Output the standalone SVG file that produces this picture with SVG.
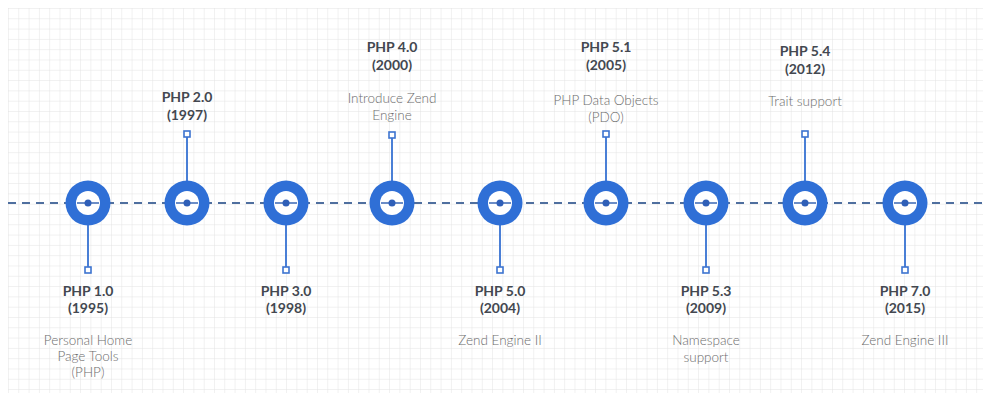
<svg xmlns="http://www.w3.org/2000/svg" width="983" height="396" viewBox="0 0 983 396">
<defs>
<pattern id="grid" x="8" y="8" width="10.3" height="10.3" patternUnits="userSpaceOnUse">
<path d="M0 0 H10.3 M0 0 V10.3" fill="none" stroke="#e2e2e2" stroke-width="1"/>
</pattern>
<g id="ring">
<circle r="22.5" fill="#2f6fd6"/>
<circle r="12" fill="#ffffff"/>
<line x1="-11" y1="0" x2="11" y2="0" stroke="#3a67b5" stroke-width="1.5"/>
<circle r="3.5" fill="#2f5fb8"/>
</g>
</defs>
<style>
.stem{stroke:#4a7fd6;stroke-width:2;fill:none}
.sq{fill:#ffffff;stroke:#3d74d0;stroke-width:1.6}
.title{font-family:"Lato","Open Sans",sans-serif;font-weight:700;font-size:14px;fill:#434850;text-anchor:middle}
.desc{font-family:"Lato","Open Sans",sans-serif;font-weight:300;font-size:13.5px;fill:#6c6c6c;text-anchor:middle}
.axis{stroke:#4f6f9f;stroke-width:2;stroke-dasharray:8 6;fill:none}
</style>
<rect width="983" height="396" fill="#ffffff"/>
<rect x="8" y="8" width="975" height="385" fill="url(#grid)"/>
<g id="connectors">
<line class="axis" x1="8" y1="203" x2="983" y2="203"/>
<line class="stem" x1="88" y1="203" x2="88" y2="267"/>
<line class="stem" x1="187" y1="203" x2="187" y2="137"/>
<line class="stem" x1="286" y1="203" x2="286" y2="267"/>
<line class="stem" x1="392" y1="203" x2="392" y2="138"/>
<line class="stem" x1="500" y1="203" x2="500" y2="267"/>
<line class="stem" x1="606" y1="203" x2="606" y2="137"/>
<line class="stem" x1="706" y1="203" x2="706" y2="267"/>
<line class="stem" x1="805" y1="203" x2="805" y2="137"/>
<line class="stem" x1="905" y1="203" x2="905" y2="267"/>
</g>
<g id="php10">
<use href="#ring" x="88" y="203"/>
<rect class="sq" x="85" y="267" width="6" height="6"/>
<text class="title" x="88" y="296">PHP 1.0</text>
<text class="title" x="88" y="313">(1995)</text>
<text class="desc" x="88" y="345">Personal Home</text>
<text class="desc" x="88" y="361">Page Tools</text>
<text class="desc" x="88" y="377">(PHP)</text>
</g>
<g id="php20">
<use href="#ring" x="187" y="203"/>
<rect class="sq" x="184" y="131" width="6" height="6"/>
<text class="title" x="187" y="102">PHP 2.0</text>
<text class="title" x="187" y="120">(1997)</text>
</g>
<g id="php30">
<use href="#ring" x="286" y="203"/>
<rect class="sq" x="283" y="267" width="6" height="6"/>
<text class="title" x="286" y="296">PHP 3.0</text>
<text class="title" x="286" y="313">(1998)</text>
</g>
<g id="php40">
<use href="#ring" x="392" y="203"/>
<rect class="sq" x="389" y="132" width="6" height="6"/>
<text class="title" x="392" y="52">PHP 4.0</text>
<text class="title" x="392" y="70">(2000)</text>
<text class="desc" x="392" y="103">Introduce Zend</text>
<text class="desc" x="392" y="120">Engine</text>
</g>
<g id="php50">
<use href="#ring" x="500" y="203"/>
<rect class="sq" x="497" y="267" width="6" height="6"/>
<text class="title" x="500" y="296">PHP 5.0</text>
<text class="title" x="500" y="313">(2004)</text>
<text class="desc" x="500" y="345">Zend Engine II</text>
</g>
<g id="php51">
<use href="#ring" x="606" y="203"/>
<rect class="sq" x="603" y="131" width="6" height="6"/>
<text class="title" x="606" y="52">PHP 5.1</text>
<text class="title" x="606" y="70">(2005)</text>
<text class="desc" x="606" y="105">PHP Data Objects</text>
<text class="desc" x="606" y="122">(PDO)</text>
</g>
<g id="php53">
<use href="#ring" x="706" y="203"/>
<rect class="sq" x="703" y="267" width="6" height="6"/>
<text class="title" x="706" y="296">PHP 5.3</text>
<text class="title" x="706" y="313">(2009)</text>
<text class="desc" x="706" y="345">Namespace</text>
<text class="desc" x="706" y="362">support</text>
</g>
<g id="php54">
<use href="#ring" x="805" y="203"/>
<rect class="sq" x="802" y="131" width="6" height="6"/>
<text class="title" x="805" y="56">PHP 5.4</text>
<text class="title" x="805" y="74">(2012)</text>
<text class="desc" x="805" y="106">Trait support</text>
</g>
<g id="php70">
<use href="#ring" x="905" y="203"/>
<rect class="sq" x="902" y="267" width="6" height="6"/>
<text class="title" x="905" y="296">PHP 7.0</text>
<text class="title" x="905" y="313">(2015)</text>
<text class="desc" x="905" y="345">Zend Engine III</text>
</g>
</svg>
